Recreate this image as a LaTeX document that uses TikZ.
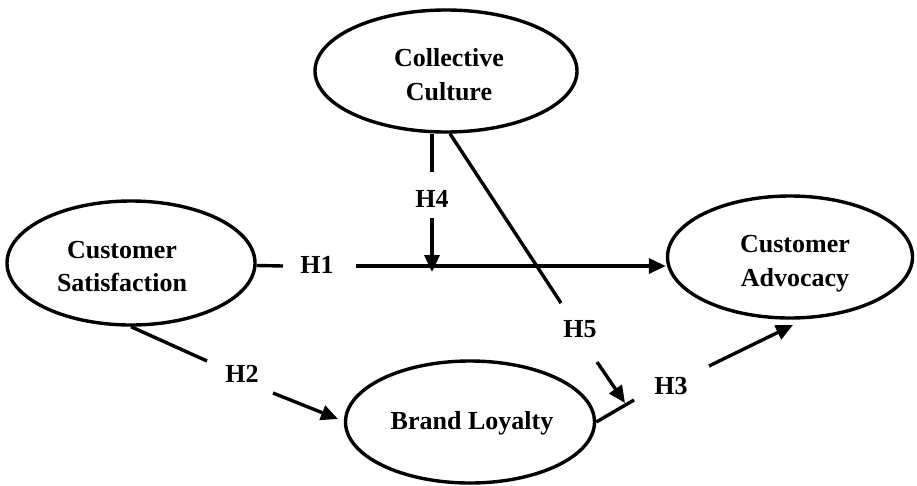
\documentclass[tikz,border=0pt]{standalone}
\usepackage{fontspec}
\setmainfont{Liberation Serif}
\usetikzlibrary{shapes.geometric,arrows.meta}
\begin{document}
\begin{tikzpicture}[x=1pt,y=-1pt,
  construct/.style={ellipse,draw,line width=3.4pt,inner sep=0pt},
  lbl/.style={anchor=base,inner sep=0pt,font=\fontsize{26}{34}\selectfont\bfseries},
  link/.style={line width=3.4pt},
  arr/.style={line width=3.4pt,-{Triangle[length=17pt,width=15pt]}}]
\useasboundingbox (0,0) rectangle (917,485);
% constructs
\node[construct,minimum width=262pt,minimum height=122pt] (cc) at (446,71) {};
\node[construct,minimum width=248pt,minimum height=124pt] (sat) at (131,263) {};
\node[construct,minimum width=245pt,minimum height=122pt] (adv) at (790,257) {};
\node[construct,minimum width=249pt,minimum height=122pt] (bl) at (470,422) {};
% construct texts
\node[lbl] (cct1) at (449,66) {Collective};
\node[lbl] (cct2) at (449,100) {Culture};
\node[lbl] (satt1) at (122,258) {Customer};
\node[lbl] (satt2) at (122,291) {Satisfaction};
\node[lbl] (advt1) at (795,252) {Customer};
\node[lbl] (advt2) at (795,286) {Advocacy};
\node[lbl] (blt) at (472,429) {Brand Loyalty};
% hypothesis labels
\node[lbl] (H1) at (317,273) {H1};
\node[lbl] (H2) at (242,382) {H2};
\node[lbl] (H3) at (671,394) {H3};
\node[lbl] (H4) at (432,207) {H4};
\node[lbl] (H5) at (580,337) {H5};
% coordinates
\coordinate (h1a) at (283,266);
\coordinate (h1b) at (356,266);
\coordinate (h4a) at (432,172);
\coordinate (h4b) at (432,218);
\coordinate (h4t) at (432,272);
\coordinate (h5a) at (561,303);
\coordinate (h5b) at (597,362);
\coordinate (h5t) at (625,403);
\coordinate (h2a) at (207,361);
\coordinate (h2b) at (273,393);
\coordinate (h2t) at (338,419);
\coordinate (h3a) at (634,400);
\coordinate (h3b) at (709,366);
\coordinate (h3t) at (793,325);
% H1
\draw[link] (sat) -- (h1a);
\draw[arr] (h1b) -- (h1b -| adv.west);
% H4
\draw[link] (h4a |- cc.south) -- (h4a);
\draw[arr] (h4b) -- (h4t);
% H5
\draw[link] ([xshift=4pt]cc.south) -- (h5a);
\draw[arr] (h5b) -- (h5t);
% H2
\draw[link] (sat.south) -- (h2a);
\draw[arr] (h2b) -- (h2t);
% H3
\draw[link] (bl.east) -- (h3a);
\draw[arr] (h3b) -- (h3t);
\end{tikzpicture}
\end{document}
